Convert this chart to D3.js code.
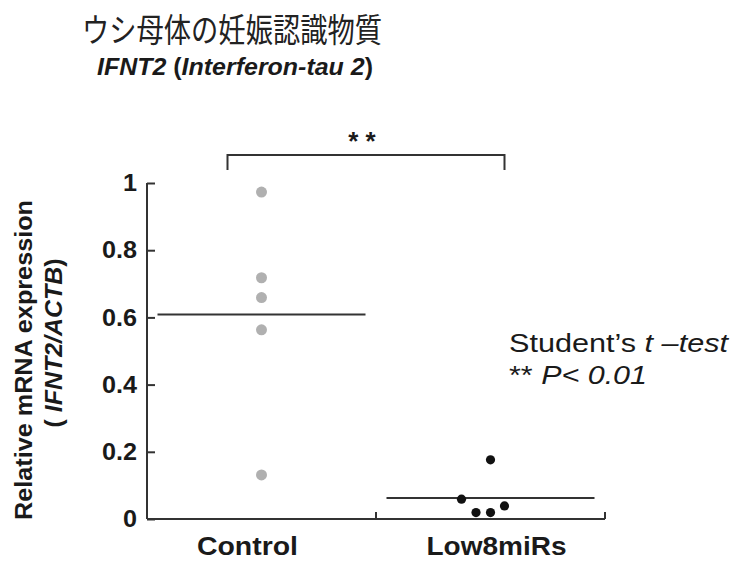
<!DOCTYPE html>
<html>
<meta charset="utf-8">
<style>
  body { margin: 0; background: #fff; }
  text { font-family: "Liberation Sans", Arial, sans-serif; fill: #1a1a1a; }
  .jp { font-family: "Noto Sans CJK JP", sans-serif; }
</style>
<body>
<script src="https://cdn.jsdelivr.net/npm/d3@7"></script>
<div id="chart"></div>
<script>
// data
var groups = ["Control", "Low8miRs"];
var controlVals = [0.973, 0.718, 0.659, 0.563, 0.131];
var lowVals = [0.176, 0.059, 0.019, 0.019, 0.039];
var yTicks = [0, 0.2, 0.4, 0.6, 0.8, 1];

var W = 734, H = 561;
var svg = d3.select("#chart").append("svg").attr("width", W).attr("height", H);

var y = d3.scaleLinear().domain([0, 1]).range([519, 183]);
var x = d3.scaleBand().domain(groups).range([147, 605]).padding(0);
var cx = function(g) { return x(g) + x.bandwidth() / 2; };

// stretch text to a given width (source font is wider than Arial)
function fit(sel, w) { sel.attr("textLength", w).attr("lengthAdjust", "spacingAndGlyphs"); }

// titles
svg.append("text").attr("class", "jp").attr("x", 82).attr("y", 42)
  .style("font-size", "33px").style("fill", "#222")
  .text("ウシ母体の妊娠認識物質").call(fit, 300);

var sub = svg.append("text").attr("x", 97).attr("y", 75)
  .style("font-size", "24px").style("font-weight", "bold");
sub.append("tspan").style("font-style", "italic").text("IFNT2");
sub.append("tspan").text(" (");
sub.append("tspan").style("font-style", "italic").text("Interferon-tau 2");
sub.append("tspan").text(")");
fit(sub, 276);

// y axis
var yAxis = svg.append("g").attr("transform", "translate(147,0)")
  .call(d3.axisLeft(y).tickValues(yTicks).tickSize(-8).tickPadding(10)
    .tickFormat(function(d) { return d === 0 || d === 1 ? d : d3.format(".1f")(d); }));
yAxis.select(".domain").attr("d", "M0," + y(1) + "V" + y(0)).attr("stroke", "#333").attr("stroke-width", 2);
yAxis.selectAll(".tick line").attr("stroke", "#333").attr("stroke-width", 2);
yAxis.selectAll(".tick text").attr("fill", "#1a1a1a")
  .style("font-size", "24px").style("font-weight", "bold")
  .each(function() { var n = this.getComputedTextLength(); d3.select(this).call(fit, n * 1.05); });

// x axis: baseline with small upward ticks at group boundaries
svg.append("line").attr("x1", 147).attr("x2", x.range()[1]).attr("y1", y(0)).attr("y2", y(0))
  .attr("stroke", "#333").attr("stroke-width", 2);
svg.selectAll(".xtick").data(groups).enter().append("line")
  .attr("x1", function(g) { return x(g) + x.bandwidth(); })
  .attr("x2", function(g) { return x(g) + x.bandwidth(); })
  .attr("y1", y(0)).attr("y2", y(0) - 7)
  .attr("stroke", "#333").attr("stroke-width", 2);

var labelShift = [-14, 6], labelW = [101, 140];
svg.selectAll(".xlab").data(groups).enter().append("text")
  .attr("x", function(g, i) { return cx(g) + labelShift[i]; }).attr("y", 555)
  .attr("text-anchor", "middle")
  .style("font-size", "25px").style("font-weight", "bold")
  .text(function(g) { return g; })
  .each(function(g, i) { d3.select(this).call(fit, labelW[i]); });

// y axis title
var yt1 = svg.append("text").attr("transform", "translate(32,360) rotate(-90)")
  .attr("text-anchor", "middle").style("font-size", "23px").style("font-weight", "bold")
  .text("Relative mRNA  expression");
fit(yt1, 320);
var yt2 = svg.append("text").attr("transform", "translate(62,343) rotate(-90)")
  .attr("text-anchor", "middle").style("font-size", "23px").style("font-weight", "bold");
yt2.append("tspan").text("( ");
yt2.append("tspan").style("font-style", "italic").text("IFNT2/ACTB");
yt2.append("tspan").text(")");
fit(yt2, 169);

// mean lines
var series = [controlVals, lowVals];
svg.selectAll(".mean").data(series).enter().append("line")
  .attr("x1", function(d, i) { return cx(groups[i]) - 104; })
  .attr("x2", function(d, i) { return cx(groups[i]) + 104; })
  .attr("y1", function(d) { return y(d3.mean(d)); })
  .attr("y2", function(d) { return y(d3.mean(d)); })
  .attr("stroke", "#333").attr("stroke-width", 2);

// dots
svg.selectAll(".ctrl").data(controlVals).enter().append("circle")
  .attr("cx", cx("Control")).attr("cy", function(d) { return y(d); })
  .attr("r", 5.5).attr("fill", "#b0b0b0");

var lowJitter = [0, -29, -14.5, 0, 14];
svg.selectAll(".low").data(lowVals).enter().append("circle")
  .attr("cx", function(d, i) { return cx("Low8miRs") + lowJitter[i]; })
  .attr("cy", function(d) { return y(d); })
  .attr("r", 4.6).attr("fill", "#111");

// significance bracket
var bx1 = cx("Control") - 34, bx2 = cx("Low8miRs") + 14;
svg.append("path").attr("d", "M" + bx1 + ",170V155H" + bx2 + "V170")
  .attr("fill", "none").attr("stroke", "#333").attr("stroke-width", 2);
svg.append("text").attr("x", 362).attr("y", 150).attr("text-anchor", "middle")
  .style("font-size", "26px").style("font-weight", "bold").text("* *");

// stats note
var s1 = svg.append("text").attr("x", 509).attr("y", 352).style("font-size", "25px");
s1.append("tspan").text("Student\u2019s ");
s1.append("tspan").style("font-style", "italic").text("t \u2013test");
fit(s1, 219);
var s2 = svg.append("text").attr("x", 509).attr("y", 384).style("font-size", "25px");
s2.append("tspan").text("** ");
s2.append("tspan").style("font-style", "italic").text("P< 0.01");
fit(s2, 138);
</script>
</body>
</html>
